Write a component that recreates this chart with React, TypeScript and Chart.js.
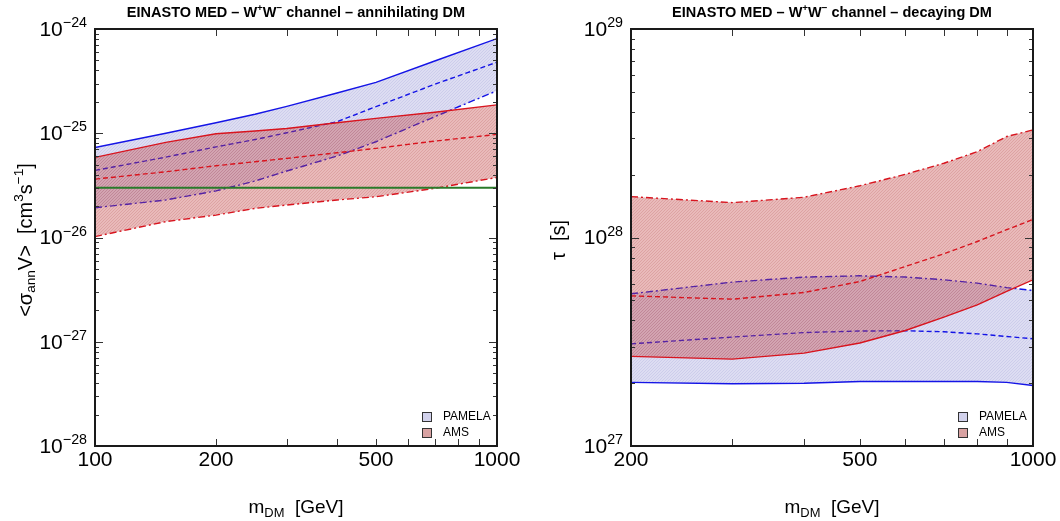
import React, { useEffect, useRef } from 'react';
import { Chart, registerables } from 'chart.js';

Chart.register(...registerables);

const FONT = '"Liberation Sans", Arial, Helvetica, sans-serif';

// ---------- annihilating DM (left panel) ----------
const massAnn = [100, 150, 200, 250, 300, 400, 500, 700, 1000];
const pamelaAnnUpper = [7.3e-26, 1.0e-25, 1.26e-25, 1.52e-25, 1.81e-25, 2.43e-25, 3.08e-25, 4.93e-25, 8.1e-25];
const pamelaAnnMid = [4.4e-26, 5.9e-26, 7.4e-26, 8.7e-26, 1.01e-25, 1.29e-25, 1.8e-25, 2.95e-25, 4.8e-25];
const pamelaAnnLower = [1.93e-26, 2.29e-26, 2.8e-26, 3.48e-26, 4.34e-26, 6.04e-26, 8.29e-26, 1.44e-25, 2.56e-25];
const amsAnnUpper = [5.87e-26, 8.17e-26, 9.9e-26, 1.05e-25, 1.11e-25, 1.26e-25, 1.39e-25, 1.59e-25, 1.87e-25];
const amsAnnMid = [3.63e-26, 4.27e-26, 4.88e-26, 5.33e-26, 5.74e-26, 6.5e-26, 7.16e-26, 8.41e-26, 9.75e-26];
const amsAnnLower = [1.02e-26, 1.42e-26, 1.64e-26, 1.9e-26, 2.05e-26, 2.29e-26, 2.46e-26, 2.96e-26, 3.77e-26];
const thermalMass = [100, 1000];
const thermalXsec = [3e-26, 3e-26];
const annXTicks = [100, 200, 500, 1000];
const annXMinor = [200, 300, 400, 500, 600, 700, 800, 900];
const annYDecades = [-28, -27, -26, -25, -24];

// ---------- decaying DM (right panel) ----------
const massDec = [200, 300, 400, 500, 600, 700, 800, 900, 1000];
const amsDecUpper = [1.57e28, 1.47e28, 1.56e28, 1.77e28, 2.01e28, 2.27e28, 2.58e28, 3.05e28, 3.28e28];
const amsDecMid = [5.25e27, 5.06e27, 5.45e27, 6.15e27, 7.26e27, 8.35e27, 9.57e27, 1.09e28, 1.22e28];
const amsDecLower = [2.69e27, 2.61e27, 2.79e27, 3.12e27, 3.58e27, 4.15e27, 4.75e27, 5.51e27, 6.27e27];
const pamelaDecUpper = [5.37e27, 6.11e27, 6.46e27, 6.55e27, 6.46e27, 6.27e27, 6.04e27, 5.75e27, 5.57e27];
const pamelaDecMid = [3.09e27, 3.33e27, 3.5e27, 3.56e27, 3.57e27, 3.53e27, 3.45e27, 3.35e27, 3.27e27];
const pamelaDecLower = [2.02e27, 1.99e27, 2.0e27, 2.04e27, 2.04e27, 2.04e27, 2.04e27, 2.02e27, 1.95e27];
const decXTicks = [200, 500, 1000];
const decXMinor = [300, 400, 500, 600, 700, 800, 900];
const decYDecades = [27, 28, 29];

const legendLabels = ['PAMELA', 'AMS'];

const BLUE = '#1414e6';
const RED = '#d8141e';
const GREEN = '#2a7a2a';
const DASH = [5, 3];
const DASHDOT = [7, 3, 2, 3];

type Seg = { t: string; s?: 'sup' | 'sub' };

function drawRich(
  ctx: CanvasRenderingContext2D,
  segs: Seg[],
  x: number,
  y: number,
  size: number,
  opts: { bold?: boolean; align?: 'left' | 'center' | 'right'; rotate?: number; color?: string } = {}
) {
  const small = size * 0.68;
  const font = (sz: number) => `${opts.bold ? 'bold ' : ''}${sz}px ${FONT}`;
  const widths = segs.map((sg) => {
    ctx.font = font(sg.s ? small : size);
    return ctx.measureText(sg.t).width;
  });
  const total = widths.reduce((a, b) => a + b, 0);
  ctx.save();
  ctx.translate(x, y);
  if (opts.rotate) ctx.rotate(opts.rotate);
  let cx = opts.align === 'center' ? -total / 2 : opts.align === 'right' ? -total : 0;
  ctx.textBaseline = 'middle';
  ctx.textAlign = 'left';
  ctx.fillStyle = opts.color || '#000';
  segs.forEach((sg, i) => {
    ctx.font = font(sg.s ? small : size);
    const dy = sg.s === 'sup' ? -size * 0.32 : sg.s === 'sub' ? size * 0.28 : 0;
    ctx.fillText(sg.t, cx, dy);
    cx += widths[i];
  });
  ctx.restore();
}

function makeHatch(base: string, line: string): CanvasPattern | string {
  const c = document.createElement('canvas');
  c.width = 3;
  c.height = 3;
  const g = c.getContext('2d');
  if (!g) return base;
  g.fillStyle = base;
  g.fillRect(0, 0, 3, 3);
  g.strokeStyle = line;
  g.lineWidth = 0.8;
  g.beginPath();
  g.moveTo(0, 3);
  g.lineTo(3, 0);
  g.moveTo(-1, 1);
  g.lineTo(1, -1);
  g.moveTo(2, 4);
  g.lineTo(4, 2);
  g.stroke();
  return g.createPattern(c, 'repeat') || base;
}

function pts(xs: number[], ys: number[]) {
  return xs.map((x, i) => ({ x, y: ys[i] }));
}

type FrameCfg = {
  xMinor: number[];
  yDecades: number[];
  title: Seg[];
  yTitle: Seg[];
  yTitlePos: [number, number];
  legendX: number;
};

function framePlugin(cfg: FrameCfg) {
  return {
    id: 'frame',
    afterDraw(chart: any) {
      const { ctx, chartArea: a, scales } = chart;
      const xs = scales.x;
      const ys = scales.y;
      ctx.save();
      // tick marks
      ctx.strokeStyle = '#333';
      ctx.lineWidth = 1;
      ctx.beginPath();
      for (const m of cfg.xMinor) {
        const px = Math.round(xs.getPixelForValue(m)) + 0.5;
        ctx.moveTo(px, a.top);
        ctx.lineTo(px, a.top + 7);
        ctx.moveTo(px, a.bottom);
        ctx.lineTo(px, a.bottom - 7);
      }
      const dMin = cfg.yDecades[0];
      const dMax = cfg.yDecades[cfg.yDecades.length - 1];
      for (let d = dMin; d <= dMax; d++) {
        for (let k = 1; k <= 9; k++) {
          if (d === dMax && k > 1) continue;
          const v = k * Math.pow(10, d);
          const py = Math.round(ys.getPixelForValue(v)) + 0.5;
          const len = k === 1 ? 8 : 4;
          ctx.moveTo(a.left, py);
          ctx.lineTo(a.left + len, py);
          ctx.moveTo(a.right, py);
          ctx.lineTo(a.right - len, py);
        }
      }
      ctx.stroke();
      // frame
      ctx.strokeStyle = '#1a1a1a';
      ctx.lineWidth = 2;
      ctx.strokeRect(a.left, a.top, a.right - a.left, a.bottom - a.top);
      // y tick labels
      for (const d of cfg.yDecades) {
        const py = ys.getPixelForValue(Math.pow(10, d));
        const exp = d < 0 ? '\u2212' + String(-d) : String(d);
        drawRich(ctx, [{ t: '10' }, { t: exp, s: 'sup' }], a.left - 8, py + 1, 21, { align: 'right' });
      }
      const cxm = (a.left + a.right) / 2;
      // title
      drawRich(ctx, cfg.title, cxm, 13, 14.5, { bold: true, align: 'center' });
      // x axis title
      drawRich(ctx, [{ t: 'm' }, { t: 'DM', s: 'sub' }, { t: '  [GeV]' }], cxm, 508, 19, { align: 'center' });
      // y axis title
      drawRich(ctx, cfg.yTitle, cfg.yTitlePos[0], cfg.yTitlePos[1], 20, { align: 'center', rotate: -Math.PI / 2 });
      // legend
      const fills = ['#d2d2ec', '#d8a2a2'];
      legendLabels.forEach((lab, i) => {
        const by = 412 + i * 16;
        ctx.fillStyle = fills[i];
        ctx.fillRect(cfg.legendX + 0.5, by + 0.5, 9, 9);
        ctx.strokeStyle = '#333';
        ctx.lineWidth = 1;
        ctx.strokeRect(cfg.legendX + 0.5, by + 0.5, 9, 9);
        ctx.fillStyle = '#000';
        ctx.font = `12px ${FONT}`;
        ctx.textBaseline = 'middle';
        ctx.textAlign = 'left';
        ctx.fillText(lab, cfg.legendX + 21, by + 5);
      });
      ctx.restore();
    },
  };
}

function lineDs(data: any[], color: string, dash: number[], extra: any = {}) {
  return {
    data,
    borderColor: color,
    borderWidth: 1.4,
    borderDash: dash,
    pointRadius: 0,
    tension: 0,
    fill: false,
    ...extra,
  };
}

function baseOptions(xmin: number, xmax: number, ymin: number, ymax: number, xTicks: number[], yWidth: number, padRight: number) {
  return {
    responsive: false,
    animation: false as const,
    events: [] as any[],
    layout: { padding: { top: 29, right: padRight, left: 0, bottom: 0 } },
    plugins: {
      legend: { display: false },
      tooltip: { enabled: false },
      filler: { propagate: false },
    },
    scales: {
      x: {
        type: 'logarithmic' as const,
        min: xmin,
        max: xmax,
        grid: { display: false, drawTicks: false },
        border: { display: false },
        afterBuildTicks: (s: any) => {
          s.ticks = xTicks.map((v) => ({ value: v }));
        },
        afterFit: (s: any) => {
          s.height = 75;
        },
        ticks: {
          autoSkip: false,
          maxRotation: 0,
          padding: 2,
          color: '#000',
          font: { size: 21, family: FONT },
          callback: (v: any) => String(v),
        },
      },
      y: {
        type: 'logarithmic' as const,
        min: ymin,
        max: ymax,
        grid: { display: false, drawTicks: false },
        border: { display: false },
        ticks: { display: false },
        afterFit: (s: any) => {
          s.width = yWidth;
        },
      },
    },
  };
}

function hatches() {
  return {
    pam: makeHatch('rgba(125,125,205,0.26)', 'rgba(90,90,180,0.16)'),
    ams: makeHatch('rgba(195,65,65,0.36)', 'rgba(150,30,30,0.18)'),
  };
}

function buildAnn(): any {
  const h = hatches();
  return {
    type: 'line',
    data: {
      datasets: [
        lineDs(pts(thermalMass, thermalXsec), GREEN, [], { borderWidth: 1.8 }),
        lineDs(pts(massAnn, amsAnnUpper), RED, []),
        lineDs(pts(massAnn, amsAnnMid), RED, DASH),
        lineDs(pts(massAnn, amsAnnLower), RED, DASHDOT, { fill: 1, backgroundColor: h.ams }),
        lineDs(pts(massAnn, pamelaAnnUpper), BLUE, []),
        lineDs(pts(massAnn, pamelaAnnMid), BLUE, DASH),
        lineDs(pts(massAnn, pamelaAnnLower), BLUE, DASHDOT, { fill: 4, backgroundColor: h.pam }),
      ],
    },
    options: baseOptions(100, 1000, 1e-28, 1e-24, annXTicks, 95, 33),
    plugins: [
      framePlugin({
        xMinor: annXMinor,
        yDecades: annYDecades,
        title: [
          { t: 'EINASTO MED \u2013 W' },
          { t: '+', s: 'sup' },
          { t: 'W' },
          { t: '\u2212', s: 'sup' },
          { t: ' channel \u2013 annihilating DM' },
        ],
        yTitle: [
          { t: '<\u03c3' },
          { t: 'ann', s: 'sub' },
          { t: 'V>  [cm' },
          { t: '3', s: 'sup' },
          { t: 's' },
          { t: '\u22121', s: 'sup' },
          { t: ']' },
        ],
        yTitlePos: [26, 240],
        legendX: 422,
      }),
    ],
  };
}

function buildDec(): any {
  const h = hatches();
  return {
    type: 'line',
    data: {
      datasets: [
        lineDs(pts(massDec, amsDecUpper), RED, DASHDOT),
        lineDs(pts(massDec, amsDecMid), RED, DASH),
        lineDs(pts(massDec, amsDecLower), RED, [], { fill: 0, backgroundColor: h.ams }),
        lineDs(pts(massDec, pamelaDecUpper), BLUE, DASHDOT),
        lineDs(pts(massDec, pamelaDecMid), BLUE, DASH),
        lineDs(pts(massDec, pamelaDecLower), BLUE, [], { fill: 3, backgroundColor: h.pam }),
      ],
    },
    options: baseOptions(200, 1000, 1e27, 1e29, decXTicks, 101, 27),
    plugins: [
      framePlugin({
        xMinor: decXMinor,
        yDecades: decYDecades,
        title: [
          { t: 'EINASTO MED \u2013 W' },
          { t: '+', s: 'sup' },
          { t: 'W' },
          { t: '\u2212', s: 'sup' },
          { t: ' channel \u2013 decaying DM' },
        ],
        yTitle: [{ t: '\u03c4  [s]' }],
        yTitlePos: [29, 240],
        legendX: 428,
      }),
    ],
  };
}

export default function App() {
  const leftRef = useRef<HTMLCanvasElement>(null);
  const rightRef = useRef<HTMLCanvasElement>(null);
  useEffect(() => {
    const c1 = new Chart(leftRef.current as HTMLCanvasElement, buildAnn());
    const c2 = new Chart(rightRef.current as HTMLCanvasElement, buildDec());
    return () => {
      c1.destroy();
      c2.destroy();
    };
  }, []);
  return (
    <div style={{ position: 'fixed', left: 0, top: 0, width: 1060, height: 521, background: '#fff' }}>
      <canvas
        ref={leftRef}
        width={530}
        height={521}
        style={{ position: 'absolute', left: 0, top: 0, width: 530, height: 521 }}
      />
      <canvas
        ref={rightRef}
        width={530}
        height={521}
        style={{ position: 'absolute', left: 530, top: 0, width: 530, height: 521 }}
      />
    </div>
  );
}
